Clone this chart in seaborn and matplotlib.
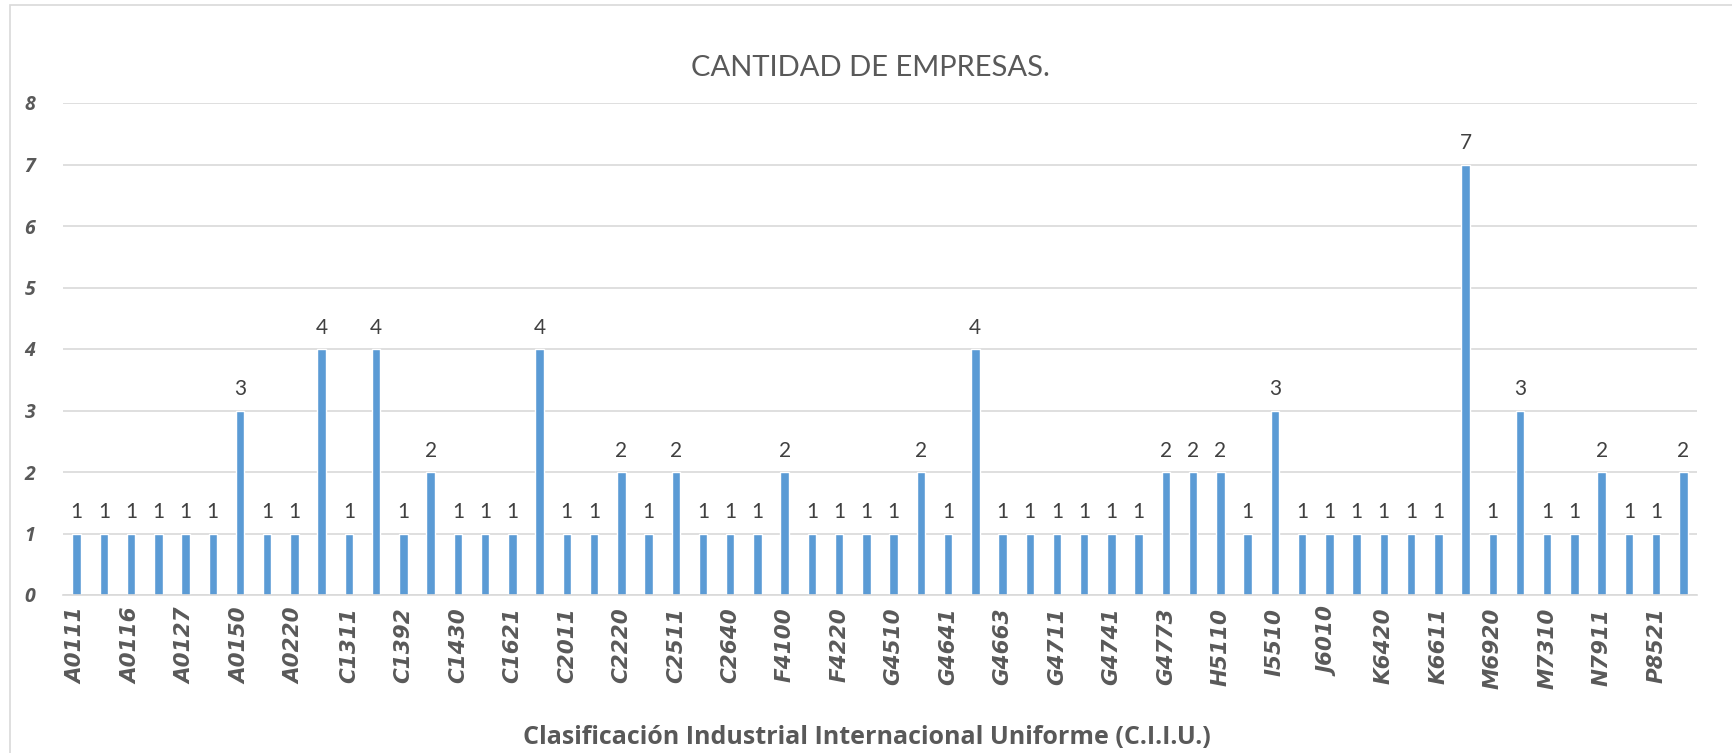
import seaborn as sns
import matplotlib.pyplot as plt
from matplotlib.patches import Rectangle

# Datos (60 códigos CIIU, solo se rotula uno de cada dos)
cantidades = [1, 1, 1, 1, 1, 1, 3, 1, 1, 4,
              1, 4, 1, 2, 1, 1, 1, 4, 1, 1,
              2, 1, 2, 1, 1, 1, 2, 1, 1, 1,
              1, 2, 1, 4, 1, 1, 1, 1, 1, 1,
              2, 2, 2, 1, 3, 1, 1, 1, 1, 1,
              1, 7, 1, 3, 1, 1, 2, 1, 1, 2]
etiquetas_visibles = ['A0111', 'A0116', 'A0127', 'A0150', 'A0220', 'C1311',
                      'C1392', 'C1430', 'C1621', 'C2011', 'C2220', 'C2511',
                      'C2640', 'F4100', 'F4220', 'G4510', 'G4641', 'G4663',
                      'G4711', 'G4741', 'G4773', 'H5110', 'I5510', 'J6010',
                      'K6420', 'K6611', 'M6920', 'M7310', 'N7911', 'P8521']
y_ticks = [0, 1, 2, 3, 4, 5, 6, 7, 8]

gris = '#595959'
azul = '#5B9BD5'

sns.set_style('white')
plt.rcParams['font.family'] = ['Lato', 'DejaVu Sans']

fig = plt.figure(figsize=(17.33, 7.53), dpi=100)
ax = fig.add_axes([63 / 1733, 1 - 595 / 753, (1697 - 63) / 1733, (595 - 103) / 753])

posiciones = list(range(len(cantidades)))
sns.barplot(x=posiciones, y=cantidades, color=azul, width=0.31,
            saturation=1, ax=ax)

ax.set_xlim(-0.5, len(cantidades) - 0.5)
ax.set_ylim(0, 8)
ax.set_yticks(y_ticks)
ax.set_yticklabels([str(t) for t in y_ticks], fontsize=14, fontweight='bold',
                   fontstyle='italic', color=gris, family=['Open Sans', 'DejaVu Sans'])
ax.set_xticks(posiciones[::2])
ax.set_xticklabels(etiquetas_visibles, rotation=90, fontsize=15.5,
                   fontweight='bold', fontstyle='italic', color=gris,
                   family='DejaVu Sans')
ax.tick_params(axis='y', length=0, pad=20)
ax.tick_params(axis='x', length=0, pad=9)

ax.grid(axis='y', color='#D9D9D9', linewidth=1.2)
ax.set_axisbelow(True)
for lado in ['left', 'right', 'top']:
    ax.spines[lado].set_visible(False)
ax.spines['bottom'].set_color('#D9D9D9')
ax.spines['bottom'].set_linewidth(1.2)

# Etiquetas de datos
for p, v in zip(posiciones, cantidades):
    ax.annotate(str(v), (p, v), xytext=(0, 8), textcoords='offset points',
                ha='center', va='bottom', fontsize=15, color='#404040')

ax.set_xlabel('')
ax.set_ylabel('')

fig.text(0.502, 1 - 68 / 753, 'CANTIDAD DE EMPRESAS.', ha='center', va='center',
         fontsize=21, color=gris)
fig.text(0.5, 1 - 737 / 753, 'Clasificación Industrial Internacional Uniforme (C.I.I.U.)',
         ha='center', va='center', fontsize=18, fontweight='bold', color=gris,
         family=['Open Sans', 'DejaVu Sans'])

# Marco del gráfico
fig.patches.append(Rectangle((10 / 1733, -0.1), 1.2, 1.1 - 5 / 753,
                             transform=fig.transFigure, fill=False,
                             edgecolor='#D9D9D9', linewidth=1.2))

fig.savefig('out.png', dpi=100)
